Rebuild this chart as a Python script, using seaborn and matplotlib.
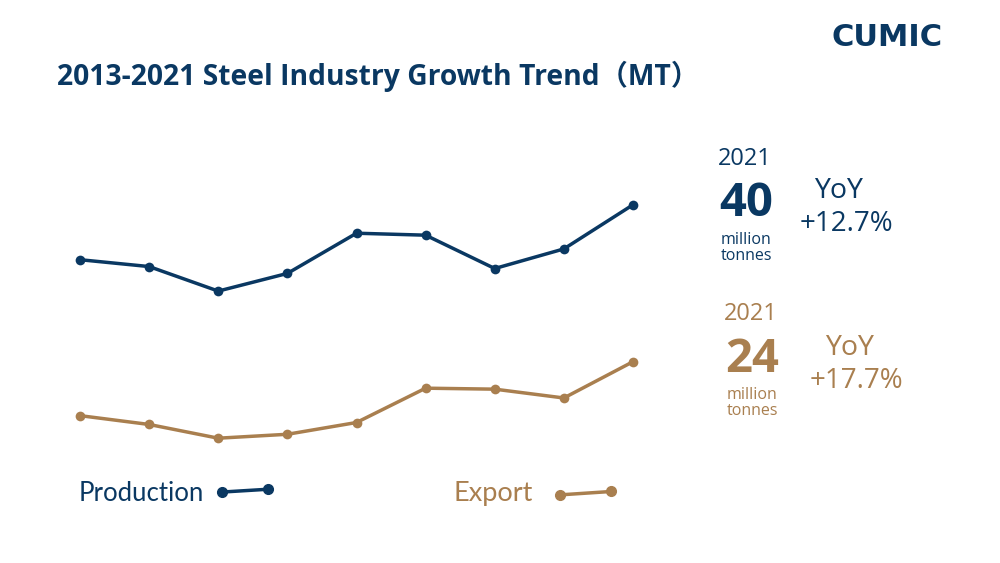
import pandas as pd
import matplotlib.pyplot as plt
from matplotlib.lines import Line2D
import seaborn as sns

# values (million tonnes), 2021 given in the chart
anos = [2013, 2014, 2015, 2016, 2017, 2018, 2019, 2020, 2021]
producao = [34.4, 33.7, 31.2, 33.0, 37.1, 36.9, 33.5, 35.5, 40.0]
exportacao = [18.5, 17.6, 16.2, 16.6, 17.8, 21.3, 21.2, 20.3, 24.0]

azul = '#0a3862'
dourado = '#a97f4f'

sns.set_theme(style='white')
plt.rcParams['font.family'] = ['Open Sans', 'Noto Sans CJK SC', 'DejaVu Sans']

df = pd.DataFrame({'ano': anos, 'Production': producao, 'Export': exportacao})

fig = plt.figure(figsize=(10, 5.63), dpi=100)
ax = fig.add_axes([0.08, 0.183, 0.553, 0.551])

sns.lineplot(data=df, x='ano', y='Production', ax=ax, color=azul, linewidth=2.5,
             marker='o', markersize=7, markeredgewidth=0, clip_on=False)
sns.lineplot(data=df, x='ano', y='Export', ax=ax, color=dourado, linewidth=2.5,
             marker='o', markersize=7, markeredgewidth=0, clip_on=False)

ax.set_xlim(2013, 2021)
ax.set_ylim(13.98, 45.61)
ax.axis('off')

# titulo
fig.text(0.057, 0.865, '2013-2021 Steel Industry Growth Trend（MT）', fontsize=20.3,
         fontweight='bold', color=azul, va='center', ha='left')

# logo
fig.text(0.887, 0.933, 'CUMIC', fontsize=22, fontweight='heavy', color=azul,
         va='center', ha='center', family=['DejaVu Sans'])

# bloco producao
fig.text(0.745, 0.718, '2021', fontsize=17, color=azul, ha='center', va='center')
fig.text(0.746, 0.638, '40', fontsize=34, fontweight='bold', color=azul, ha='center', va='center')
fig.text(0.746, 0.574, 'million', fontsize=11.5, color=azul, ha='center', va='center')
fig.text(0.746, 0.545, 'tonnes', fontsize=11.5, color=azul, ha='center', va='center')
fig.text(0.838, 0.66, 'YoY', fontsize=20.5, color=azul, ha='center', va='center')
fig.text(0.846, 0.602, '+12.7%', fontsize=20, color=azul, ha='center', va='center')

# bloco exportacao
fig.text(0.751, 0.442, '2021', fontsize=17, color=dourado, ha='center', va='center')
fig.text(0.752, 0.362, '24', fontsize=34, fontweight='bold', color=dourado, ha='center', va='center')
fig.text(0.752, 0.298, 'million', fontsize=11.5, color=dourado, ha='center', va='center')
fig.text(0.752, 0.270, 'tonnes', fontsize=11.5, color=dourado, ha='center', va='center')
fig.text(0.849, 0.381, 'YoY', fontsize=20.5, color=dourado, ha='center', va='center')
fig.text(0.856, 0.323, '+17.7%', fontsize=20, color=dourado, ha='center', va='center')

# legenda manual
fig.text(0.079, 0.123, 'Production', fontsize=18.5, color=azul, ha='left', va='center',
         family=['Lato', 'DejaVu Sans'])
fig.add_artist(Line2D([0.222, 0.268], [0.126, 0.131], color=azul, linewidth=2.5,
                      marker='o', markersize=7, transform=fig.transFigure))
fig.text(0.453, 0.124, 'Export', fontsize=19.5, color=dourado, ha='left', va='center',
         family=['Lato', 'DejaVu Sans'])
fig.add_artist(Line2D([0.560, 0.611], [0.121, 0.127], color=dourado, linewidth=2.5,
                      marker='o', markersize=7, transform=fig.transFigure))

fig.savefig('out.png', dpi=100)
